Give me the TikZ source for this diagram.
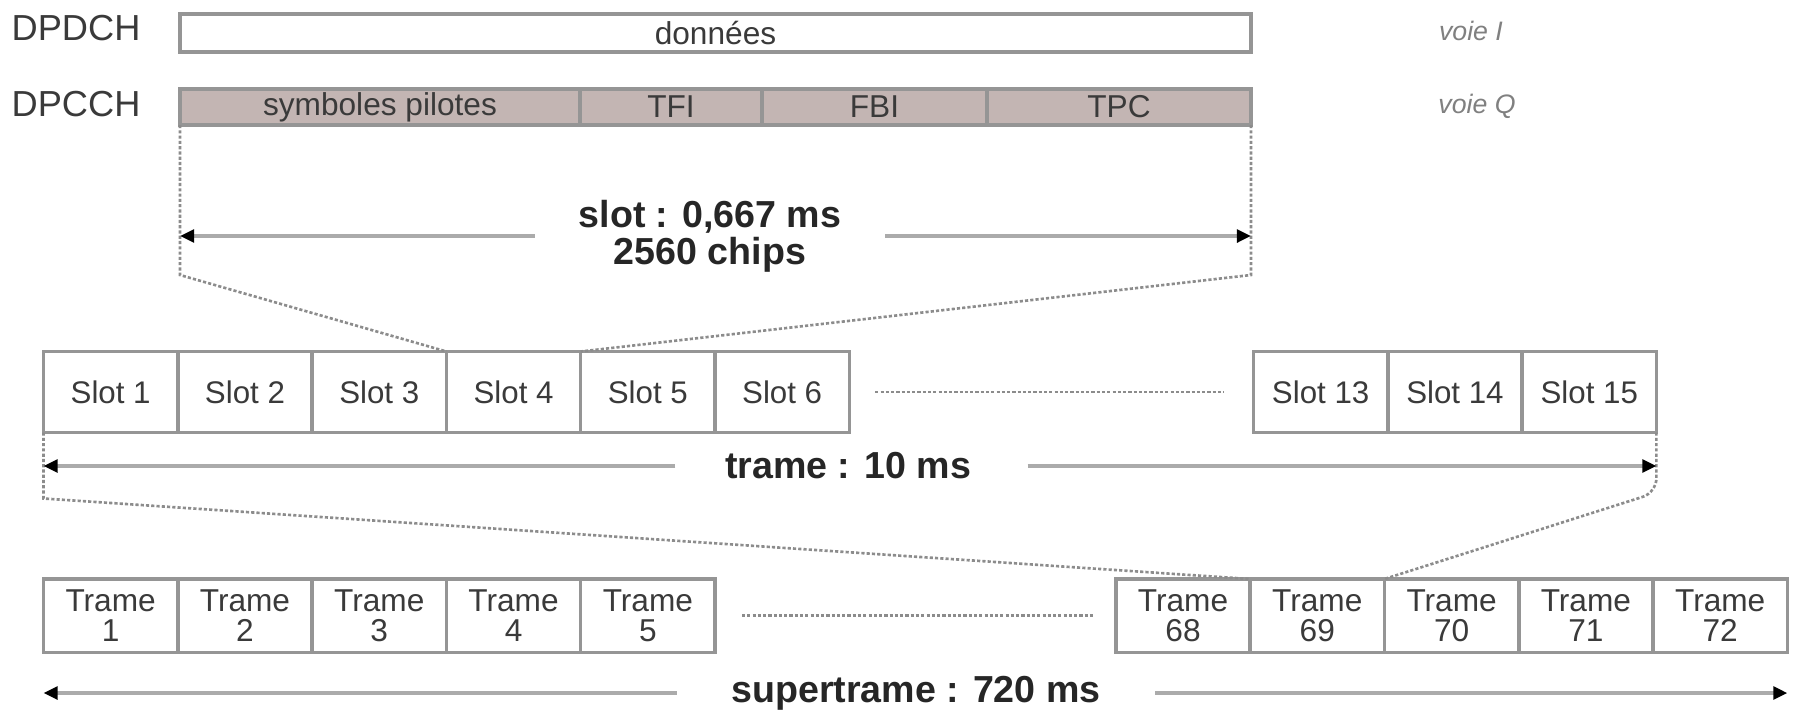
\documentclass[tikz,border=0pt]{standalone}
\usepackage{fontspec}
\setmainfont{Liberation Sans}
\usetikzlibrary{arrows.meta,positioning,calc}
\definecolor{cadre}{HTML}{959595}
\definecolor{rose}{HTML}{C3B5B3}
\definecolor{texte}{HTML}{3A3A3A}
\definecolor{trait}{HTML}{ABABAB}
\tikzset{
    champ/.style =  {rectangle,
                    fill=white,
                    draw=cadre,
                    text=texte,
                    line width=1pt,
                    outer sep=0pt,
                    inner sep=0pt,
                    minimum height=0.38cm,
                    font=\fontsize{9}{10}\selectfont},
    ctrl/.style =   {champ,
                    fill=rose,
                    minimum height=0.36cm},
    slot/.style =   {champ,
                    minimum width=1.343cm,
                    minimum height=0.81cm,
                    font=\fontsize{8.9}{10}\selectfont},
    trame/.style =  {slot,
                    align=center,
                    minimum height=0.735cm,
                    font=\fontsize{9}{8.6}\selectfont},
    canal/.style =  {anchor=west,
                    text=texte,
                    inner sep=0pt,
                    font=\fontsize{10.3}{12}\selectfont},
    voie/.style =   {text=gray,
                    font=\fontsize{7.6}{9}\selectfont\itshape},
    duree/.style =  {text=black!85,
                    align=center,
                    inner sep=0pt,
                    font=\fontsize{10.7}{10.4}\selectfont\bfseries},
    fleche/.style = {draw=trait,
                    line width=1.2pt,
                    -{Triangle[length=4pt,width=3.6pt,black]}},
    pointille/.style = {draw=gray!90,
                    dash pattern=on 0.9pt off 0.6pt,
                    line width=0.75pt},
    node distance=1.343cm}
\begin{document}
\begin{tikzpicture}
            \useasboundingbox (0,0) rectangle (17.95,7.09);
            \node[canal]     (dpdch) at (0.11,6.81)   {DPDCH};
            \node[champ, minimum width=10.71cm] (don) at (7.155,6.76) {données};
            \node[voie]      (vi)    at (14.71,6.78)  {voie I};
            \node[canal]     (dpcch) at (0.11,6.05)   {DPCCH};
            \node[ctrl, minimum width=4.00cm, anchor=west] (pil) at (1.80,6.02) {symboles pilotes};
            \node[ctrl, minimum width=1.82cm] (tfi) [right=0pt of pil] {TFI};
            \node[ctrl, minimum width=2.25cm] (fbi) [right=0pt of tfi] {FBI};
            \node[ctrl, minimum width=2.64cm] (tpc) [right=0pt of fbi] {TPC};
            \node[voie]      (vq)    at (14.77,6.03)  {voie Q};
            \node[duree]     (dslot) at (7.10,4.73)   {slot : 0,667 ms\\2560 chips};
            \node[slot]      (s1)    at (1.1065,3.17) {Slot 1};
            \node[slot]      (s2)    [right of=s1]    {Slot 2};
            \node[slot]      (s3)    [right of=s2]    {Slot 3};
            \node[slot]      (s4)    [right of=s3]    {Slot 4};
            \node[slot]      (s5)    [right of=s4]    {Slot 5};
            \node[slot]      (s6)    [right of=s5]    {Slot 6};
            \node[slot]      (s13)   at (13.2065,3.17) {Slot 13};
            \node[slot]      (s14)   [right of=s13]   {Slot 14};
            \node[slot]      (s15)   [right of=s14]   {Slot 15};
            \node[duree]     (dtrame) at (8.48,2.43)  {trame : 10 ms};
            \node[trame]     (t1)    at (1.1065,0.9325) {Trame\\1};
            \node[trame]     (t2)    [right of=t1]    {Trame\\2};
            \node[trame]     (t3)    [right of=t2]    {Trame\\3};
            \node[trame]     (t4)    [right of=t3]    {Trame\\4};
            \node[trame]     (t5)    [right of=t4]    {Trame\\5};
            \node[trame]     (t68)   at (11.83,0.9325) {Trame\\68};
            \node[trame]     (t69)   [right of=t68]   {Trame\\69};
            \node[trame]     (t70)   [right of=t69]   {Trame\\70};
            \node[trame]     (t71)   [right of=t70]   {Trame\\71};
            \node[trame]     (t72)   [right of=t71]   {Trame\\72};
            \node[duree]     (dsuper) at (9.16,0.16)  {supertrame : 720 ms};
            \coordinate (a1) at ($(pil.south west)+(0,-1.5)$);
            \coordinate (a2) at ($(tpc.south east)+(0,-1.5)$);
            \coordinate (b1) at ($(s1.south west)+(0,-0.66)$);
            \coordinate (b2) at ($(s15.south east)+(0,-0.6)$);
            \draw[pointille] (pil.south west) -- (a1) -- (s4.north west);
            \draw[pointille] (tpc.south east) -- (a2) -- (s5.north west);
            \draw[pointille] (s1.south west) -- (b1) -- (t69.north west);
            \draw[pointille, rounded corners=4pt] (s15.south east) -- (b2) -- (t70.north west);
            \draw[pointille, shorten <=0.26cm, shorten >=0.3cm] (s6.east) -- (s13.west);
            \draw[pointille, shorten <=0.27cm, shorten >=0.23cm] (t5.east) -- (t68.west);
            \draw[fleche] ([xshift=-0.43cm]dslot.west) -- (dslot.west -| a1);
            \draw[fleche] ([xshift=0.43cm]dslot.east) -- (dslot.east -| a2);
            \draw[fleche] ([xshift=-0.49cm]dtrame.west) -- (dtrame.west -| b1);
            \draw[fleche] ([xshift=0.56cm]dtrame.east) -- (dtrame.east -| b2);
            \draw[fleche] ([xshift=-0.54cm]dsuper.west) -- (dsuper.west -| t1.west);
            \draw[fleche] ([xshift=0.54cm]dsuper.east) -- (dsuper.east -| t72.east);
        \end{tikzpicture}
\end{document}
